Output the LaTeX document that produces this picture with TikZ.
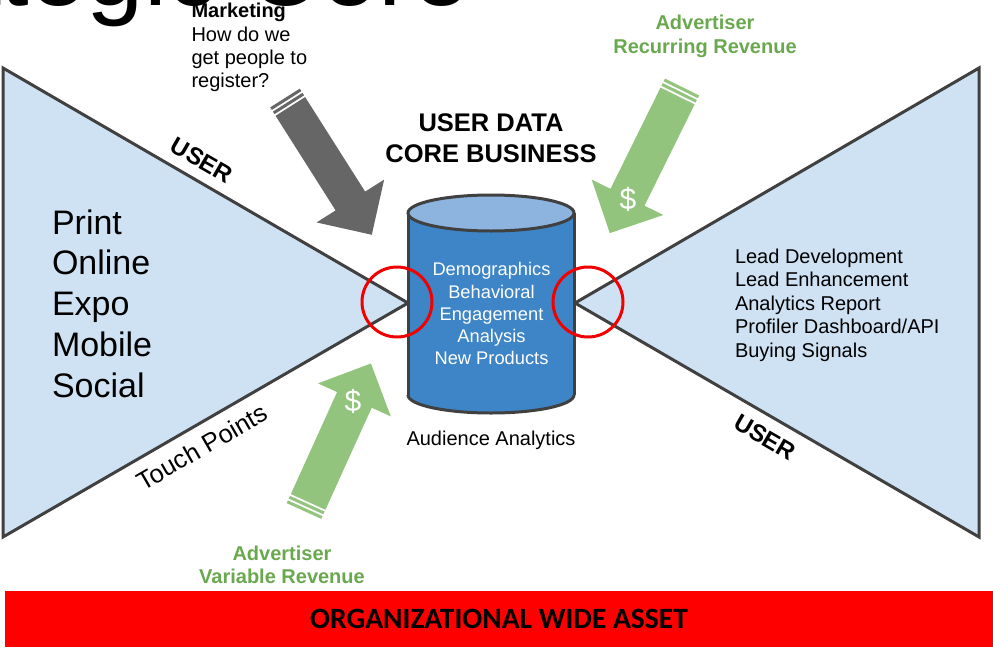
\documentclass[tikz,border=0pt]{standalone}
\usepackage{fontspec}
\setmainfont{Liberation Sans}
\newfontfamily\barfont{Carlito}

\definecolor{trifill}{HTML}{CFE2F3}
\definecolor{edgegray}{HTML}{404040}
\definecolor{cylbody}{HTML}{3D85C6}
\definecolor{cyltop}{HTML}{8DB4DE}
\definecolor{arrowgray}{HTML}{666666}
\definecolor{arrowgreen}{HTML}{93C47D}
\definecolor{textgreen}{HTML}{6AA84F}
\definecolor{ringred}{HTML}{F20000}

% Striped block arrow: tail x, tail y, angle, length, half shaft, half head, head length, colour
\newcommand\stripedarrow[8]{%
  \begin{scope}[shift={(#1,#2)}, rotate=#3]
    \fill[#8] (0,-#5) rectangle (3,#5);
    \fill[#8] (5,-#5) rectangle (8,#5);
    \fill[#8] (10,-#5) -- (#4-#7,-#5) -- (#4-#7,-#6) -- (#4,0)
      -- (#4-#7,#6) -- (#4-#7,#5) -- (10,#5) -- cycle;
  \end{scope}}

\tikzset{
  fs/.style={font=\fontsize{#1}{#1}\selectfont},
  fsb/.style={font=\fontsize{#1}{#1}\selectfont\bfseries},
  funnel/.style={fill=trifill, draw=edgegray, line width=3pt, line join=miter},
  ring/.style={circle, draw=ringred, line width=3pt, minimum size=70pt},
  cylline/.style={draw=edgegray, line width=3pt},
}

\begin{document}
\begin{tikzpicture}[x=1pt, y=-1pt, every node/.style={inner sep=0pt, outer sep=0pt}]
\useasboundingbox (0,0) rectangle (993,648);
\clip (0,0) rectangle (993,648);

% slide title, running off the top edge
\node[anchor=base west, fs=103] (title) at (-188,5) {Strategic Core};

% the two funnels
\filldraw[funnel] (3,68) -- (408,303) -- (3,537) -- cycle;
\filldraw[funnel] (979,68) -- (575,303) -- (979,537) -- cycle;

% block arrows
\stripedarrow{285}{98}{-57.6}{162}{17.5}{40}{40}{arrowgray}
\stripedarrow{682}{87}{-116.3}{163}{19}{40}{40}{arrowgreen}
\stripedarrow{304}{511}{65.6}{162}{19}{40}{40}{arrowgreen}
\node[fs=30, text=white] (dollartop) at (628,199) {\$};
\node[fs=30, text=white] (dollarbot) at (353,401) {\$};

% data cylinder
\fill[cylbody] (408,213) rectangle (574,395);
\fill[cylbody] (491,395) ellipse [x radius=83, y radius=18];
\draw[cylline] (408,213) -- (408,395);
\draw[cylline] (574,213) -- (574,395);
\begin{scope}
  \clip (400,395) rectangle (582,420);
  \draw[cylline] (491,395) ellipse [x radius=83, y radius=18];
\end{scope}
\filldraw[cylline, fill=cyltop] (491,213) ellipse [x radius=83, y radius=18];

% junction rings
\node[ring] (ringleft) at (397,302) {};
\node[ring] (ringright) at (588,302) {};

% headings and labels
\node[anchor=base west, fsb=20] (mk1) at (191.5,17) {Marketing};
\node[anchor=base west, fs=20] (mk2) at (191.5,41) {How do we};
\node[anchor=base west, fs=20] (mk3) at (191.5,64) {get people to};
\node[anchor=base west, fs=20] (mk4) at (191.5,87) {register?};

\node[anchor=base, fsb=25.5] (core1) at (491,131) {USER DATA};
\node[anchor=base, fsb=25.5] (core2) at (491,162) {CORE BUSINESS};

\node[anchor=base, fsb=20, text=textgreen] (rec1) at (705,29) {Advertiser};
\node[anchor=base, fsb=20, text=textgreen] (rec2) at (705,53) {Recurring Revenue};
\node[anchor=base, fsb=20, text=textgreen] (var1) at (282,560) {Advertiser};
\node[anchor=base, fsb=20, text=textgreen] (var2) at (282,583) {Variable Revenue};

\node[fsb=24, rotate=-30] (userleft) at (202,160) {USER};
\node[fsb=24, rotate=-30] (userright) at (765,437) {USER};
\node[fs=25.5, rotate=30] (touch) at (202,447) {Touch Points};

% channels
\foreach \t [count=\i from 0] in {Print,Online,Expo,Mobile,Social}
  \node[anchor=base west, fs=34] (ch\i) at (52,234+40.75*\i) {\t};

% contents of the cylinder
\foreach \t [count=\i from 0] in {Demographics,Behavioral,Engagement,Analysis,New Products}
  \node[anchor=base, fs=18.3, text=white] (cy\i) at (491.5,275.7+22.3*\i) {\t};
\node[anchor=base, fs=20] (aud) at (491,445) {Audience Analytics};

% products
\foreach \t [count=\i from 0] in {Lead Development,Lead Enhancement,Analytics Report,Profiler Dashboard/API,Buying Signals}
  \node[anchor=base west, fs=20] (pr\i) at (735,263+23.5*\i) {\t};

% banner
\node[anchor=north west, fill=red, minimum width=988pt, minimum height=56pt,
      font=\barfont\fontsize{29.5}{29.5}\selectfont\bfseries] (banner) at (5,591) {ORGANIZATIONAL WIDE ASSET};
\end{tikzpicture}
\end{document}
